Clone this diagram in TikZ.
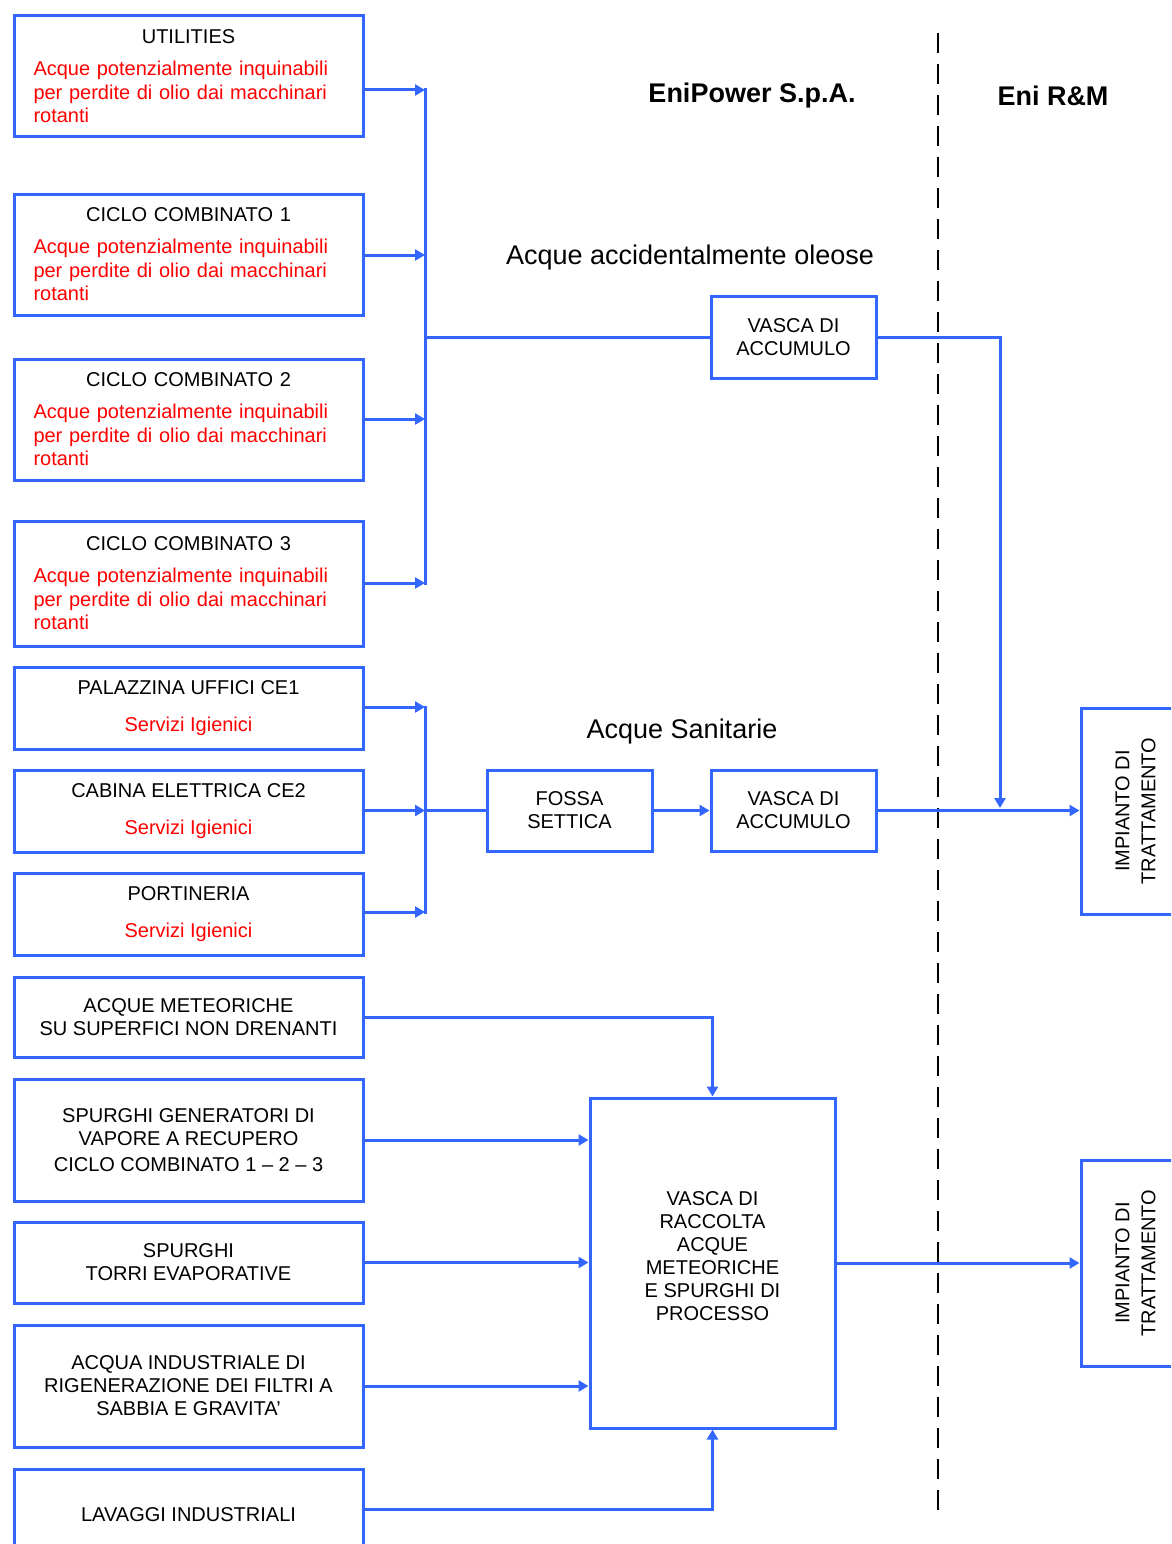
\documentclass[tikz,border=0pt]{standalone}
\usepackage{fontspec}
\setmainfont{Liberation Sans}
\usetikzlibrary{arrows.meta,calc}
\definecolor{blu}{RGB}{51,102,255}
\definecolor{rosso}{RGB}{255,0,0}
\begin{document}
\begin{tikzpicture}[x=1pt,y=-1pt,
  box/.style={draw=blu, line width=3pt, inner sep=0pt, align=center, font=\fontsize{20}{23}\selectfont},
  lbox/.style={box, minimum width=349pt},
  rbox/.style={lbox, text width=310pt, align=left},
  conn/.style={draw=blu, line width=3pt},
  arr/.style={conn, -{Triangle[length=10pt,width=11pt]}},
  lab/.style={font=\fontsize{27}{32}\selectfont},
  blab/.style={font=\fontsize{27}{32}\selectfont\bfseries},
  rtxt/.style={rotate=90, align=center, font=\fontsize{20}{26}\selectfont},
]
\useasboundingbox (0,0) rectangle (1171,1544);
\clip (0,0) rectangle (1171,1544);

% left column, upper group
\node[rbox, minimum height=121pt] (u) at (188.5,76.5)
  {\makebox[310pt]{UTILITIES}\\[9pt]\textcolor{rosso}{Acque potenzialmente inquinabili}\\[1pt]\textcolor{rosso}{per perdite di olio dai macchinari}\\\textcolor{rosso}{rotanti}};
\node[rbox, minimum height=121pt] (cc1) at (188.5,254.5)
  {\makebox[310pt]{CICLO COMBINATO 1}\\[9pt]\textcolor{rosso}{Acque potenzialmente inquinabili}\\[1pt]\textcolor{rosso}{per perdite di olio dai macchinari}\\\textcolor{rosso}{rotanti}};
\node[rbox, minimum height=121pt] (cc2) at (188.5,419.5)
  {\makebox[310pt]{CICLO COMBINATO 2}\\[9pt]\textcolor{rosso}{Acque potenzialmente inquinabili}\\[1pt]\textcolor{rosso}{per perdite di olio dai macchinari}\\\textcolor{rosso}{rotanti}};
\node[rbox, minimum height=125pt] (cc3) at (188.5,583.5)
  {\makebox[310pt]{CICLO COMBINATO 3}\\[9pt]\textcolor{rosso}{Acque potenzialmente inquinabili}\\[1pt]\textcolor{rosso}{per perdite di olio dai macchinari}\\\textcolor{rosso}{rotanti}};

% left column, sanitary group
\node[lbox, minimum height=82pt] (pal) at (188.5,708) {PALAZZINA UFFICI CE1\\[14pt]\textcolor{rosso}{Servizi Igienici}};
\node[lbox, minimum height=82pt] (cab) at (188.5,811) {CABINA ELETTRICA CE2\\[14pt]\textcolor{rosso}{Servizi Igienici}};
\node[lbox, minimum height=82pt] (por) at (188.5,914) {PORTINERIA\\[14pt]\textcolor{rosso}{Servizi Igienici}};

% left column, lower group
\node[lbox, minimum height=80pt] (met) at (188.5,1017) {ACQUE METEORICHE\\SU SUPERFICI NON DRENANTI};
\node[lbox, minimum height=122pt] (sg) at (188.5,1140) {SPURGHI GENERATORI DI\\VAPORE A RECUPERO\\[3pt]CICLO COMBINATO 1 -- 2 -- 3};
\node[lbox, minimum height=81pt] (st) at (188.5,1262.5) {SPURGHI\\TORRI EVAPORATIVE};
\node[lbox, minimum height=122pt] (ai) at (188.5,1386) {ACQUA INDUSTRIALE DI\\RIGENERAZIONE DEI FILTRI A\\SABBIA E GRAVITA'};
\node[lbox, minimum height=92pt] (lav) at (188.5,1515) {LAVAGGI INDUSTRIALI};

% middle boxes
\node[box, minimum width=165pt, minimum height=82pt] (va1) at (793.5,337) {VASCA DI\\ACCUMULO};
\node[box, minimum width=165pt, minimum height=81pt] (fos) at (569.5,810.5) {FOSSA\\SETTICA};
\node[box, minimum width=165pt, minimum height=81pt] (va2) at (793.5,810.5) {VASCA DI\\ACCUMULO};
\node[box, minimum width=245pt, minimum height=330pt] (vb) at (712.5,1263)
  {VASCA DI\\RACCOLTA\\ACQUE\\METEORICHE\\E SPURGHI DI\\PROCESSO\\[-10pt]\mbox{}};

% right boxes
\node[box, minimum width=109pt, minimum height=206pt] (imp1) at (1135.5,811) {};
\node[rtxt] (imp1t) at (imp1.center) {IMPIANTO DI\\TRATTAMENTO};
\node[box, minimum width=109pt, minimum height=206pt] (imp2) at (1135.5,1263) {};
\node[rtxt] (imp2t) at (imp2.center) {IMPIANTO DI\\TRATTAMENTO};

% labels
\node[blab] (ep) at (752,96) {EniPower S.p.A.};
\node[blab] (rm) at (1053,96) {Eni R\&M};
\node[lab] (ol) at (690,258) {Acque accidentalmente oleose};
\node[lab] (sa) at (682,732) {Acque Sanitarie};

% dashed boundary
\coordinate (d1) at (938,33);
\coordinate (d2) at (938,1515);
\draw[black, line width=2.5pt, dash pattern=on 20pt off 11pt] (d1) -- (d2);

% bus 1
\coordinate (b1) at (425,90);
\coordinate (b2) at (425,255);
\coordinate (b3) at (425,419);
\coordinate (b4) at (425,583);
\draw[arr] (b1 -| u.east) -- (b1);
\draw[arr] (b2 -| cc1.east) -- (b2);
\draw[arr] (b3 -| cc2.east) -- (b3);
\draw[arr] (b4 -| cc3.east) -- (b4);
\draw[conn, line cap=rect] (b1) -- (b4);
\draw[conn] (va1.west -| b1) -- (va1.west);
\coordinate (c1) at (1000,808);
\draw[arr] (va1.east) -| (c1);

% bus 2
\coordinate (b5) at (425,707);
\coordinate (b6) at (425,810.5);
\coordinate (b7) at (425,912);
\draw[arr] (b5 -| pal.east) -- (b5);
\draw[arr] (b6 -| cab.east) -- (b6);
\draw[arr] (b7 -| por.east) -- (b7);
\draw[conn, line cap=rect] (b5) -- (b7);
\draw[conn] (b6) -- (fos.west);
\draw[arr] (fos.east) -- (va2.west);
\draw[arr] (va2.east) -- (va2.east -| imp1.west);

% lower group
\draw[arr] (met.east) -| (vb.north);
\draw[arr] (sg.east) -- (sg.east -| vb.west);
\draw[arr] (st.east) -- (st.east -| vb.west);
\draw[arr] (ai.east) -- (ai.east -| vb.west);
\coordinate (lv) at (712.5,1509);
\draw[arr] (lv -| lav.east) -- (lv) -- (vb.south);
\draw[arr] (vb.east) -- (vb.east -| imp2.west);
\end{tikzpicture}
\end{document}
